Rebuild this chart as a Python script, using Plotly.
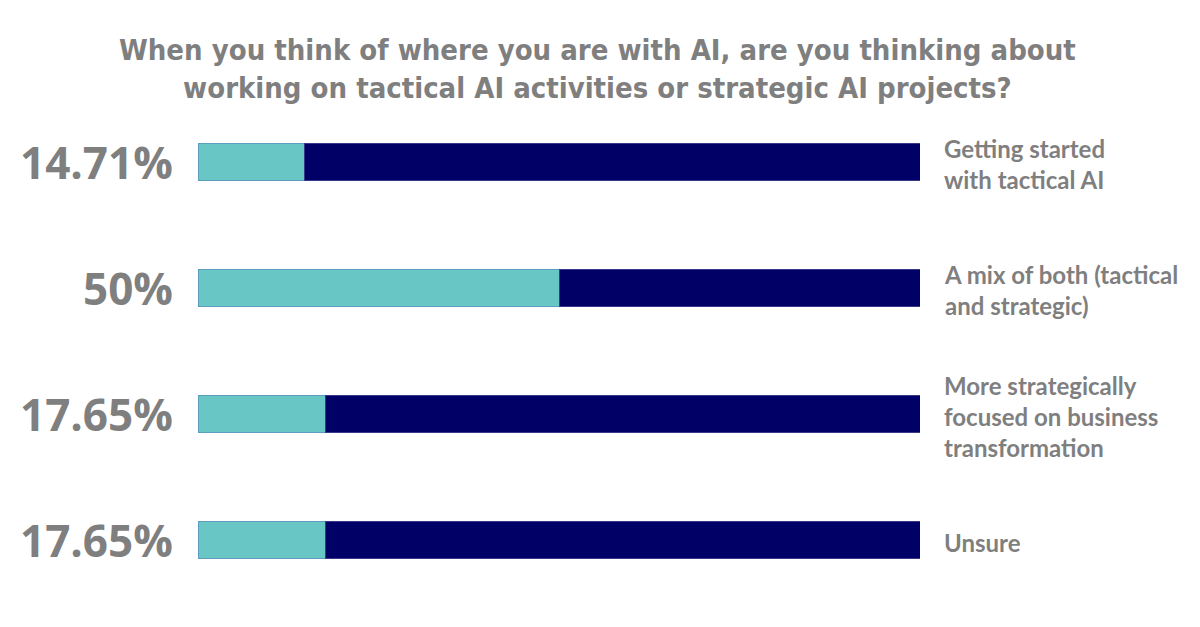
import plotly.graph_objects as go

categories = [
    "Getting started<br>with tactical AI",
    "A mix of both (tactical<br>and strategic)",
    "More strategically<br>focused on business<br>transformation",
    "Unsure",
]
values = [14.71, 50.0, 17.65, 17.65]
remainder = [85.29, 50.0, 82.35, 82.35]
value_labels = ["14.71%", "50%", "17.65%", "17.65%"]
title_text = ("When you think of where you are with AI, are you thinking about<br>"
              "working on tactical AI activities or strategic AI projects?")

TEAL = "#68C6C5"
NAVY = "#000066"
GRAY = "#7F7F7F"

fig = go.Figure()
fig.add_trace(go.Bar(
    y=categories, x=values, orientation="h",
    marker=dict(color=TEAL, line=dict(color="#5B9EC0", width=1)),
    hoverinfo="skip",
))
fig.add_trace(go.Bar(
    y=categories, x=remainder, orientation="h",
    marker=dict(color=NAVY, line=dict(color="#3A3A8C", width=1)),
    hoverinfo="skip",
))

for cat, lab in zip(categories, value_labels):
    fig.add_annotation(
        x=0, y=cat, xref="paper", yref="y", text=lab, showarrow=False,
        xanchor="right", yanchor="middle", xshift=-23,
        font=dict(family="Open Sans", size=44, color=GRAY, weight="bold"),
    )
    fig.add_annotation(
        x=1, y=cat, xref="paper", yref="y", text=cat, showarrow=False,
        xanchor="left", yanchor="middle", xshift=22, yshift=-2, align="left",
        font=dict(family="Lato", size=24, color=GRAY, weight="bold"),
    )

fig.add_annotation(
    x=0.5533, y=1.135, xref="paper", yref="paper", yanchor="top",
    text=title_text, showarrow=False, align="center",
    font=dict(family="DejaVu Sans Condensed", size=29, color=GRAY, weight="bold"),
)

fig.update_layout(
    width=1200, height=627,
    margin=dict(l=190, r=288, t=91, b=32),
    barmode="stack", bargap=0.70,
    showlegend=False,
    plot_bgcolor="white", paper_bgcolor="white",
    xaxis=dict(range=[0, 100], visible=False, fixedrange=True),
    yaxis=dict(autorange="reversed", visible=False, fixedrange=True),
)

fig.write_html("out.html", config={"displayModeBar": False})
